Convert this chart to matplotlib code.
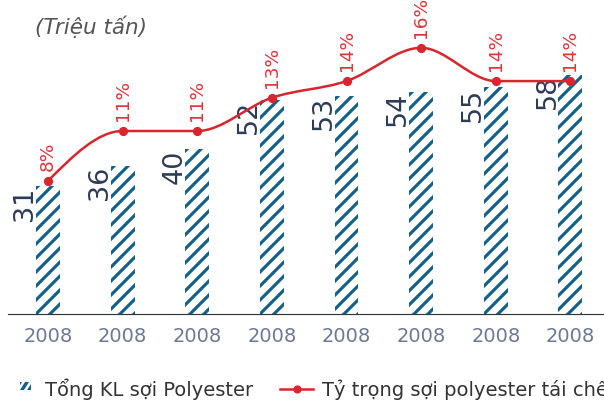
import numpy as np
import matplotlib.pyplot as plt
from matplotlib.path import Path
from matplotlib.patches import PathPatch, Polygon
from matplotlib.lines import Line2D

plt.rcParams['font.family'] = ['DejaVu Sans']
plt.rcParams['hatch.linewidth'] = 2.7

# ========== 数据 ==========
years = ['2008', '2008', '2008', '2008', '2008', '2008', '2008', '2008']
volumes = [31, 36, 40, 52, 53, 54, 55, 58]          # Tổng KL sợi Polyester (triệu tấn)
shares = [8, 11, 11, 13, 14, 16, 14, 14]            # Tỷ trọng tái chế (%)
bar_label = 'Tổng KL sợi Polyester'
line_label = 'Tỷ trọng sợi polyester tái chế'
unit_label = '(Triệu tấn)'

BLUE = '#13608d'
NAVY = '#2b3b58'
RED = '#d9252d'
GREY = '#6c7894'

DPI = 84
W, H = 604, 403


def px(v):
    """像素 -> 磅"""
    return v * 72 / DPI


def fig_xy(x, y):
    """像素坐标(左上为原点) -> figure 坐标"""
    return (x / W, 1 - y / H)


def monotone_path(xs, ys):
    """单调三次曲线 (d3 monotoneX) -> Bezier Path"""
    xs = np.asarray(xs, float)
    ys = np.asarray(ys, float)
    n = len(xs)
    h = np.diff(xs)
    s = np.diff(ys) / h
    t = np.zeros(n)
    for i in range(1, n - 1):
        s0, s1 = s[i - 1], s[i]
        p = (s0 * h[i] + s1 * h[i - 1]) / (h[i - 1] + h[i])
        t[i] = (np.sign(s0) + np.sign(s1)) * min(abs(s0), abs(s1), 0.5 * abs(p))
    t[0] = (3 * s[0] - t[1]) / 2
    t[-1] = (3 * s[-1] - t[-2]) / 2
    verts = [(xs[0], ys[0])]
    codes = [Path.MOVETO]
    for i in range(n - 1):
        dx = h[i] / 3
        verts += [(xs[i] + dx, ys[i] + dx * t[i]),
                  (xs[i + 1] - dx, ys[i + 1] - dx * t[i + 1]),
                  (xs[i + 1], ys[i + 1])]
        codes += [Path.CURVE4] * 3
    return Path(verts, codes)


fig = plt.figure(figsize=(W / DPI, H / DPI), dpi=DPI)
ax = fig.add_axes([8 / W, 89 / H, 596 / W, 274 / H])
x = np.arange(len(volumes))
bw = 0.32

ax.bar(x, volumes, width=bw, color='white', edgecolor=BLUE, hatch='//', linewidth=0)
ax.set_xlim(-0.536, 7.45)
ax.set_ylim(0, 66.5)
for side in ['top', 'left', 'right']:
    ax.spines[side].set_visible(False)
ax.spines['bottom'].set_color('#333333')
ax.spines['bottom'].set_linewidth(1.0)
ax.set_yticks([])
ax.set_xticks(x, years)
ax.tick_params(axis='x', length=0, pad=px(13), labelsize=px(19.5), labelcolor=GREY)

for i, v in enumerate(volumes):
    ax.annotate(str(v), xy=(i - bw / 2, v), xytext=(px(2), 0), textcoords='offset points',
                rotation=90, ha='right', va='top', fontsize=px(27), color=NAVY,
                annotation_clip=False)

ax2 = ax.twinx()
ax2.set_ylim(0, 16.47)
ax2.set_yticks([])
for side in ax2.spines:
    ax2.spines[side].set_visible(False)

ax2.add_patch(PathPatch(monotone_path(x, shares), facecolor='none', edgecolor=RED,
                        linewidth=px(2.5), clip_on=False))
ax2.plot(x, shares, 'o', color=RED, markersize=px(8), clip_on=False)
for i, v in enumerate(shares):
    ax2.annotate(f'{v}%', xy=(i, v), xytext=(0, px(10)), textcoords='offset points',
                 rotation=90, ha='center', va='bottom', fontsize=px(18.5), color='#e0353b',
                 annotation_clip=False)

# 单位
fig.text(35 / W, 1 - 27 / H, unit_label, style='italic', fontsize=px(21.5),
         color='#555555', va='center', ha='left')

# 图例
ly = 1 - 389 / H
# 斜纹小方块: 左上角三角 + 中间斜条 + 右下角三角
legend_stripes = [
    [(20, 382), (22, 382), (20, 385.2)],
    [(20, 390), (24, 390), (29, 382), (25, 382)],
    [(27, 390), (31, 390), (31, 383.6)],
]
for pts in legend_stripes:
    fig.add_artist(Polygon([fig_xy(*p) for p in pts], closed=True, facecolor=BLUE,
                           edgecolor='none', transform=fig.transFigure))
fig.text(45 / W, ly, bar_label, fontsize=px(19.5), color='#333333', va='center', ha='left')
fig.add_artist(Line2D([280 / W, 313 / W], [ly, ly], color=RED, linewidth=px(2.5),
                      transform=fig.transFigure))
fig.add_artist(Line2D([297 / W], [ly], color=RED, marker='o', markersize=px(7),
                      transform=fig.transFigure))
fig.text(322 / W, ly, line_label, fontsize=px(19.5), color='#333333', va='center', ha='left')

fig.savefig('out.png', dpi=DPI)
